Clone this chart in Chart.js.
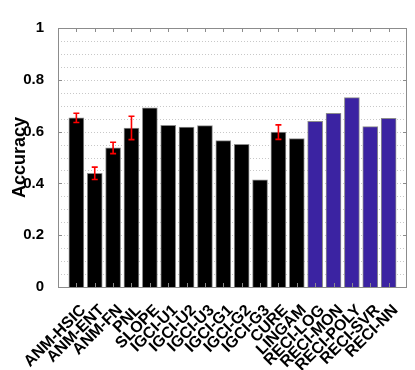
<!DOCTYPE html>
<html>
<head>
<meta charset="utf-8">
<script src="https://cdn.jsdelivr.net/npm/chart.js@4/dist/chart.umd.min.js"></script>
<style>
html,body{margin:0;padding:0;background:#fff;}
#wrap{width:415px;height:370px;position:relative;}
</style>
</head>
<body>
<div id="wrap"><canvas id="c" width="415" height="370"></canvas></div>
<script>
const categories = ["ANM-HSIC","ANM-ENT","ANM-FN","PNL","SLOPE","IGCI-U1","IGCI-U2","IGCI-U3","IGCI-G1","IGCI-G2","IGCI-G3","CURE","LINGAM","RECI-LOG","RECI-MON","RECI-POLY","RECI-SVR","RECI-NN"];
const accuracy = [0.653,0.439,0.537,0.614,0.692,0.624,0.617,0.623,0.565,0.551,0.414,0.598,0.573,0.640,0.671,0.731,0.619,0.651];
const errors = [0.018,0.024,0.022,0.045,null,null,null,null,null,null,null,0.028,null,null,null,null,null,null];
const isReci = [0,0,0,0,0,0,0,0,0,0,0,0,0,1,1,1,1,1];
const yTickLabels = ["0","0.2","0.4","0.6","0.8","1"];

const FONT = "'Liberation Sans', Arial, Helvetica, sans-serif";
const BLUE = "#3b23a2";

const points = accuracy.map((v,i)=>({x:i+1,y:v}));

const gridDots = {
  id:'gridDots',
  beforeDatasetsDraw(chart){
    const ctx = chart.ctx, ys = chart.scales.y, a = chart.chartArea;
    ctx.save();
    ctx.strokeStyle = '#c8c8c8';
    ctx.lineWidth = 1;
    ctx.setLineDash([1,2]);
    ys.ticks.forEach(t=>{
      const y = Math.round(ys.getPixelForValue(t.value))+0.5;
      ctx.beginPath(); ctx.moveTo(a.left,y); ctx.lineTo(a.right,y); ctx.stroke();
    });
    ctx.restore();
  }
};

const decor = {
  id:'decor',
  afterDatasetsDraw(chart){
    const ctx = chart.ctx, xs = chart.scales.x, ys = chart.scales.y, a = chart.chartArea;
    ctx.save();
    // error bars
    ctx.strokeStyle = '#ff0000';
    ctx.lineWidth = 1.6;
    errors.forEach((e,i)=>{
      if(e==null) return;
      const x = xs.getPixelForValue(i+1);
      const y1 = ys.getPixelForValue(accuracy[i]+e);
      const y2 = ys.getPixelForValue(accuracy[i]-e);
      ctx.beginPath();
      ctx.moveTo(x,y1); ctx.lineTo(x,y2);
      ctx.moveTo(x-3,y1); ctx.lineTo(x+3,y1);
      ctx.moveTo(x-3,y2); ctx.lineTo(x+3,y2);
      ctx.stroke();
    });
    // box
    ctx.strokeStyle = '#8c8c8c';
    ctx.lineWidth = 1;
    ctx.strokeRect(Math.round(a.left)+0.5, Math.round(a.top)+0.5, Math.round(a.right-a.left)-1, Math.round(a.bottom-a.top));
    // inward ticks
    ctx.beginPath();
    categories.forEach((c,i)=>{
      const x = Math.round(xs.getPixelForValue(i+1))+0.5;
      ctx.moveTo(x,a.top); ctx.lineTo(x,a.top+4);
      ctx.moveTo(x,a.bottom); ctx.lineTo(x,a.bottom-4);
    });
    for(let k=0;k<yTickLabels.length;k++){
      const y = Math.round(ys.getPixelForValue(k*0.2))+0.5;
      ctx.moveTo(a.left,y); ctx.lineTo(a.left+4,y);
      ctx.moveTo(a.right,y); ctx.lineTo(a.right-4,y);
    }
    ctx.stroke();
    ctx.restore();
  }
};

new Chart(document.getElementById('c'),{
  type:'bar',
  data:{
    datasets:[{
      data: points,
      backgroundColor: accuracy.map((v,i)=>isReci[i]?BLUE:'#000000'),
      borderColor: '#8c8c8c',
      borderWidth: 1,
      barThickness: 15
    }]
  },
  options:{
    responsive:false,
    animation:false,
    devicePixelRatio:1,
    layout:{padding:{top:28,right:8,left:0,bottom:0}},
    plugins:{legend:{display:false},tooltip:{enabled:false}},
    scales:{
      x:{
        type:'linear',
        offset:false,
        min:0,max:19,
        afterFit(s){ s.height = 83; },
        afterBuildTicks(s){ s.ticks = categories.map((c,i)=>({value:i+1})); },
        ticks:{
          autoSkip:false,
          maxRotation:45,minRotation:45,
          padding:6,
          labelOffset:7,
          color:'#000',
          font:{family:FONT,size:16,weight:'bold'},
          callback:(v)=>categories[Math.round(v)-1]||''
        },
        grid:{display:false},
        border:{display:false}
      },
      y:{
        min:0,max:1,
        afterFit(s){ s.width = 58; },
        afterBuildTicks(s){
          const t=[]; for(let k=0;k<=20;k++) t.push({value:k*0.05}); s.ticks=t;
        },
        ticks:{
          autoSkip:false,
          padding:6,
          color:'#000',
          font:{family:FONT,size:15,weight:'bold'},
          callback:(v)=>{ const k=Math.round(v/0.05); return k%4===0 ? yTickLabels[k/4] : ''; }
        },
        grid:{display:false},
        border:{display:false},
        title:{display:true,text:'Accuracy',color:'#000',font:{family:FONT,size:18,weight:'bold'},padding:{top:9,bottom:0}}
      }
    }
  },
  plugins:[gridDots,decor]
});
</script>
</body>
</html>
